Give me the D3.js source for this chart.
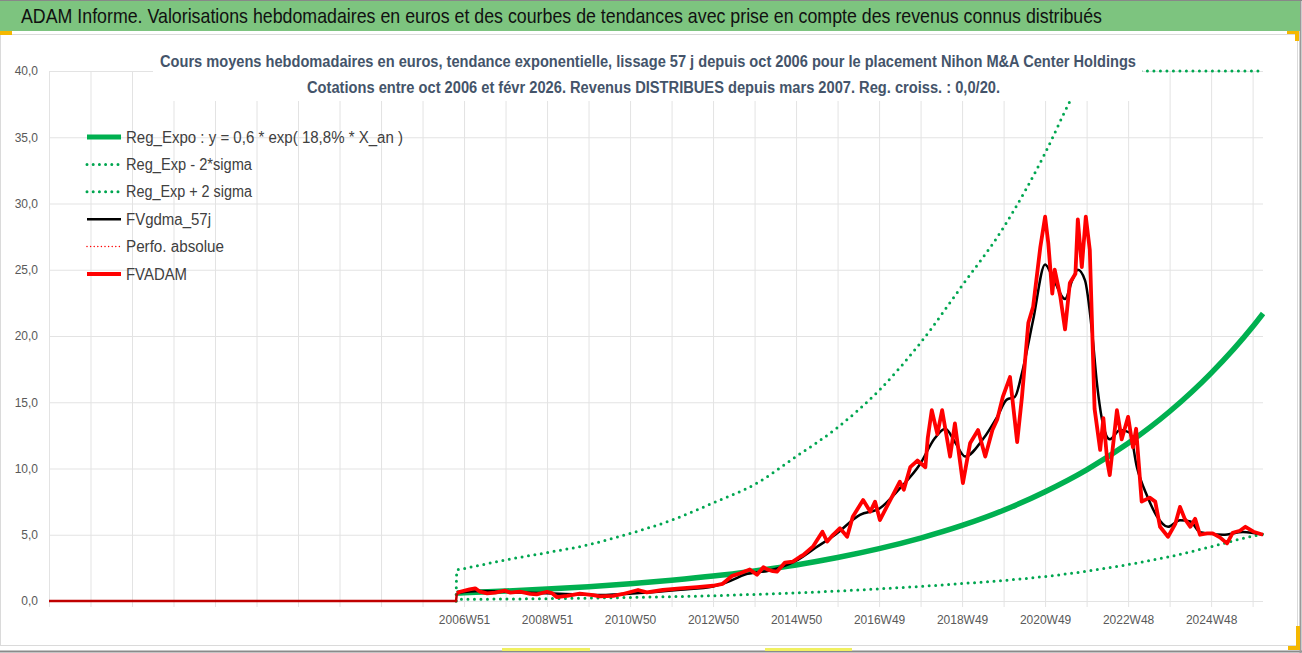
<!DOCTYPE html>
<html>
<head>
<meta charset="utf-8">
<script src="https://cdn.jsdelivr.net/npm/d3@7"></script>
<style>
  body { margin: 0; background: #fff; }
</style>
</head>
<body>
<svg id="chart" width="1302" height="653"></svg>
<script>
// weekly categories, 0 = first week shown (end of 1996), 1521 = febr 2026
var nbSemaines = 1521;
var semainesZero = [0, 510];           // avant la cotation : valeurs nulles

var yTicks = [0, 5, 10, 15, 20, 25, 30, 35, 40];
var labelWeeks = [520, 624, 728, 832, 936, 1040, 1144, 1248, 1352, 1456];
var tickLabels = ['2006W51', '2008W51', '2010W50', '2012W50', '2014W50',
                  '2016W49', '2018W49', '2020W49', '2022W48', '2024W48'];

// Reg_Expo (centre)
var regExpo = [[511,0.6],[520,0.62],[572,0.75],[624,0.9],[676,1.08],[728,1.3],[780,1.57],
  [832,1.88],[884,2.27],[936,2.72],[988,3.28],[1040,3.95],[1092,4.75],[1144,5.7],[1196,6.85],
  [1248,8.25],[1300,9.9],[1352,11.9],[1404,14.3],[1456,17.2],[1508,20.7],[1521,21.7]];

// Reg_Exp - 2*sigma
var regMoins = [[511,0.13],[520,0.13],[572,0.15],[624,0.18],[676,0.22],[728,0.27],[780,0.33],
  [832,0.4],[884,0.5],[936,0.62],[988,0.75],[1040,0.92],[1092,1.1],[1144,1.32],[1196,1.55],
  [1248,1.85],[1300,2.25],[1352,2.75],[1404,3.35],[1456,4.1],[1508,4.9],[1521,5.05]];

// Reg_Exp + 2 sigma (au dessus de 40 : dessiné sur le bord)
var regPlus = [[511,2.34],[520,2.45],[572,3.1],[624,3.65],[676,4.25],[728,5.1],[780,6.1],
  [832,7.4],[884,8.8],[936,10.9],[988,13.1],[1040,15.9],[1092,19.5],[1144,23.8],[1196,28.2],
  [1248,33.8],[1279,37.7],[1300,40],[1352,40],[1404,40],[1456,40],[1508,40],[1521,40]];

// FVgdma_57j
var fvgdma = [[511,0.6],[540,0.75],[590,0.65],[640,0.55],[690,0.45],[740,0.6],[791,0.85],
  [832,1.1],[853,1.5],[872,2.0],[903,2.3],[935,3.0],[960,4.0],[985,5.0],[1016,6.5],[1041,7.0],
  [1066,8.5],[1091,10.3],[1110,12.3],[1123,13.0],[1135,12.0],[1148,10.9],[1170,12.2],
  [1188,13.9],[1200,15.2],[1210,15.4],[1219,17.2],[1233,21.2],[1248,25.4],[1257,24.5],
  [1273,22.8],[1282,24.2],[1289,25.0],[1298,24.2],[1307,20.2],[1313,16.4],[1321,13.2],
  [1329,12.2],[1342,12.9],[1354,12.7],[1363,10.1],[1376,7.9],[1388,6.4],[1402,5.6],
  [1417,6.1],[1430,6.0],[1442,5.2],[1471,5.0],[1496,5.2],[1521,5.0]];

// FVADAM
var fvadam = [[511,0.58],[515,0.7],[527,0.88],[534,0.96],[540,0.7],[549,0.58],[559,0.63],
  [571,0.78],[578,0.63],[590,0.7],[603,0.53],[611,0.5],[624,0.7],[630,0.6],[636,0.3],
  [649,0.38],[665,0.55],[682,0.45],[690,0.35],[707,0.38],[719,0.53],[738,0.83],[749,0.65],
  [769,0.83],[791,0.96],[812,1.05],[832,1.15],[844,1.3],[856,1.9],[866,2.09],[878,2.38],
  [887,1.98],[895,2.55],[900,2.39],[907,2.25],[912,2.21],[922,2.9],[932,2.97],[941,3.34],
  [945,3.47],[957,4.1],[969,5.23],[975,4.48],[982,4.98],[991,5.49],[1000,4.85],[1007,6.36],
  [1020,7.62],[1029,6.74],[1035,7.5],[1041,6.11],[1054,7.62],[1066,9.0],[1071,8.4],
  [1079,10.1],[1088,10.6],[1098,10.1],[1101,12.3],[1106,14.4],[1113,12.6],[1119,14.4],
  [1129,10.9],[1135,13.4],[1145,8.9],[1154,11.9],[1164,12.9],[1173,10.9],[1182,12.9],
  [1188,13.7],[1195,15.4],[1204,16.9],[1213,12.0],[1219,15.4],[1227,21.0],[1233,22.2],
  [1242,26.7],[1248,29.0],[1252,27.0],[1257,23.2],[1260,25.0],[1267,23.0],[1273,20.5],
  [1279,24.0],[1286,24.7],[1289,28.8],[1294,25.2],[1299,29.0],[1304,26.5],[1310,14.5],
  [1317,11.4],[1321,13.8],[1326,10.5],[1329,9.5],[1338,14.4],[1344,12.2],[1352,13.9],
  [1358,11.6],[1362,13.0],[1369,7.5],[1379,7.8],[1386,7.5],[1392,5.6],[1402,4.85],
  [1411,5.8],[1417,7.1],[1423,6.2],[1430,5.6],[1436,6.2],[1442,5.0],[1451,5.1],[1458,5.1],
  [1467,4.8],[1476,4.35],[1483,5.15],[1492,5.3],[1499,5.6],[1509,5.23],[1521,5.0]];

var legendItems = [
  {label: 'Reg_Expo : y = 0,6 * exp( 18,8% *  X_an )', w: 277, color: '#00b050', width: 5, dash: null},
  {label: 'Reg_Exp - 2*sigma', w: 126, color: '#00a650', width: 3, dash: '0 6.2'},
  {label: 'Reg_Exp + 2 sigma', w: 126, color: '#00a650', width: 3, dash: '0 6.2'},
  {label: 'FVgdma_57j', w: 85, color: '#000000', width: 2.5, dash: null},
  {label: 'Perfo. absolue', w: 98, color: '#ff0000', width: 1.5, dash: '0 3.6'},
  {label: 'FVADAM', w: 61, color: '#ff0000', width: 4, dash: null}
];

var FONT = '"Liberation Sans Narrow","Liberation Sans","Noto Sans",sans-serif';

var svg = d3.select('#chart');
var pLeft = 49, pRight = 1263, pTop = 71, pBottom = 601;

var x = d3.scaleLinear().domain([0, nbSemaines]).range([pLeft, pRight]);
var y = d3.scaleLinear().domain([0, 40]).range([pBottom, pTop]);

// fond et cadre
svg.append('rect').attr('x', 0).attr('y', 0).attr('width', 1302).attr('height', 653).attr('fill', '#fff');
svg.append('rect').attr('x', 0.5).attr('y', 34.5).attr('width', 1297).attr('height', 611)
  .attr('fill', 'none').attr('stroke', '#dadada');
svg.append('line').attr('x1', 0).attr('x2', 1302).attr('y1', 651.5).attr('y2', 651.5)
  .attr('stroke', '#8a8a8a').attr('stroke-width', 2);
svg.append('line').attr('x1', 1300.5).attr('x2', 1300.5).attr('y1', 0).attr('y2', 653)
  .attr('stroke', '#9a9a9a').attr('stroke-width', 2);

// bandeau titre
svg.append('rect').attr('x', 0).attr('y', 0).attr('width', 1300).attr('height', 31).attr('fill', '#7dc47f');
svg.append('line').attr('x1', 0).attr('x2', 1302).attr('y1', 0.5).attr('y2', 0.5).attr('stroke', '#888');
svg.append('text').attr('x', 21).attr('y', 23)
  .attr('textLength', 1081).attr('lengthAdjust', 'spacingAndGlyphs')
  .style('font-family', FONT).style('font-size', '21px').attr('fill', '#111')
  .text('ADAM Informe. Valorisations hebdomadaires en euros et des courbes de tendances avec prise en compte des revenus connus distribués');
// poignées
svg.append('rect').attr('x', 0).attr('y', 31).attr('width', 12).attr('height', 4).attr('fill', '#f5b800');
svg.append('rect').attr('x', 1287).attr('y', 31).attr('width', 12).attr('height', 3).attr('fill', '#f5b800');
svg.append('rect').attr('x', 1295).attr('y', 31).attr('width', 4).attr('height', 10).attr('fill', '#f5b800');
svg.append('rect').attr('x', 1288).attr('y', 646).attr('width', 12).attr('height', 4).attr('fill', '#f5b800');
svg.append('rect').attr('x', 1296).attr('y', 626).attr('width', 4).attr('height', 24).attr('fill', '#f5b800');
svg.append('rect').attr('x', 502).attr('y', 648).attr('width', 88).attr('height', 3).attr('fill', '#f0f060');
svg.append('rect').attr('x', 765).attr('y', 648).attr('width', 87).attr('height', 3).attr('fill', '#f0f060');

// grille horizontale + étiquettes y
var yAxis = d3.axisLeft(y).tickValues(yTicks)
  .tickFormat(function(d){ return d.toFixed(1).replace('.', ','); })
  .tickSizeInner(-(pRight - pLeft)).tickSizeOuter(0).tickPadding(11);
var gy = svg.append('g').attr('transform', 'translate(' + pLeft + ',0)').call(yAxis);
gy.select('.domain').remove();
gy.selectAll('line').attr('stroke', '#e3e3e3');
gy.selectAll('text').style('font-family', FONT).style('font-size', '12px').attr('fill', '#595959');

// grille verticale + étiquettes x
var gridWeeks = d3.range(0, nbSemaines, 52);
var xAxis = d3.axisBottom(x).tickValues(gridWeeks)
  .tickFormat(function(d){ var i = labelWeeks.indexOf(d); return i >= 0 ? tickLabels[i] : ''; })
  .tickSizeInner(-(607 - pTop)).tickSizeOuter(0).tickPadding(8);
var gx = svg.append('g').attr('transform', 'translate(0,607)').call(xAxis);
gx.select('.domain').remove();
gx.selectAll('line').attr('stroke', '#e3e3e3');
gx.selectAll('text').style('font-family', FONT).style('font-size', '12px').attr('fill', '#595959');

// courbes
var clip = svg.append('clipPath').attr('id', 'plot');
clip.append('rect').attr('x', pLeft - 2).attr('y', pTop - 3).attr('width', pRight - pLeft + 4).attr('height', pBottom - pTop + 6);
var plot = svg.append('g').attr('clip-path', 'url(#plot)');

var line = d3.line()
  .x(function(d){ return x(d[0]); })
  .y(function(d){ return y(Math.min(40, d[1])); })
  .curve(d3.curveMonotoneX);
var lineRaw = d3.line()
  .x(function(d){ return x(d[0]); })
  .y(function(d){ return y(d[1]); });

// saut depuis zéro juste avant la première cotation
function avecSaut(serie) {
  return [[semainesZero[1], 0]].concat(serie);
}

plot.append('path').datum(regExpo).attr('d', line)
  .attr('fill', 'none').attr('stroke', '#00b050').attr('stroke-width', 5.5);
plot.append('path').datum(avecSaut(regMoins)).attr('d', lineRaw.curve(d3.curveMonotoneX))
  .attr('fill', 'none').attr('stroke', '#00a650').attr('stroke-width', 3)
  .attr('stroke-dasharray', '0 6.5').attr('stroke-linecap', 'round');
plot.append('path').datum(avecSaut(regPlus)).attr('d', line)
  .attr('fill', 'none').attr('stroke', '#00a650').attr('stroke-width', 3)
  .attr('stroke-dasharray', '0 6.5').attr('stroke-linecap', 'round');
lineRaw.curve(d3.curveLinear);
plot.append('path').datum(fvgdma).attr('d', line)
  .attr('fill', 'none').attr('stroke', '#000').attr('stroke-width', 2.5);
plot.append('path').datum(fvadam).attr('d', lineRaw)
  .attr('fill', 'none').attr('stroke', '#ff0000').attr('stroke-width', 3.8)
  .attr('stroke-linejoin', 'round');
plot.append('path').datum(semainesZero.map(function(w){ return [w, 0]; }).concat([fvadam[0]]))
  .attr('d', lineRaw).attr('fill', 'none').attr('stroke', '#c00000').attr('stroke-width', 2.5);

// sous-titre (fond blanc)
svg.append('rect').attr('x', 153).attr('y', 46).attr('width', 989).attr('height', 55).attr('fill', '#fff');
svg.append('text').attr('x', 160).attr('y', 67)
  .attr('textLength', 976).attr('lengthAdjust', 'spacingAndGlyphs')
  .style('font-family', FONT).style('font-size', '16px').style('font-weight', 'bold').attr('fill', '#44546a')
  .text('Cours moyens hebdomadaires en euros, tendance exponentielle, lissage 57 j depuis oct 2006 pour le placement Nihon M&A Center Holdings');
svg.append('text').attr('x', 307).attr('y', 93)
  .attr('textLength', 693).attr('lengthAdjust', 'spacingAndGlyphs')
  .style('font-family', FONT).style('font-size', '16px').style('font-weight', 'bold').attr('fill', '#44546a')
  .text('Cotations entre oct 2006 et févr 2026. Revenus DISTRIBUES depuis mars 2007. Reg. croiss. : 0,0/20.');

// légende
var leg = svg.append('g').selectAll('g').data(legendItems).enter().append('g')
  .attr('transform', function(d, i){ return 'translate(86,' + (137 + i * 27.4) + ')'; });
leg.append('line').attr('x1', 1).attr('x2', 35).attr('y1', 0).attr('y2', 0)
  .attr('stroke', function(d){ return d.color; })
  .attr('stroke-width', function(d){ return d.width; })
  .attr('stroke-dasharray', function(d){ return d.dash; })
  .attr('stroke-linecap', function(d){ return d.dash ? 'round' : 'butt'; });
leg.append('text').attr('x', 40).attr('y', 5.5)
  .attr('textLength', function(d){ return d.w; }).attr('lengthAdjust', 'spacingAndGlyphs')
  .style('font-family', FONT).style('font-size', '16px').attr('fill', '#404040')
  .text(function(d){ return d.label; });
</script>
</body>
</html>
